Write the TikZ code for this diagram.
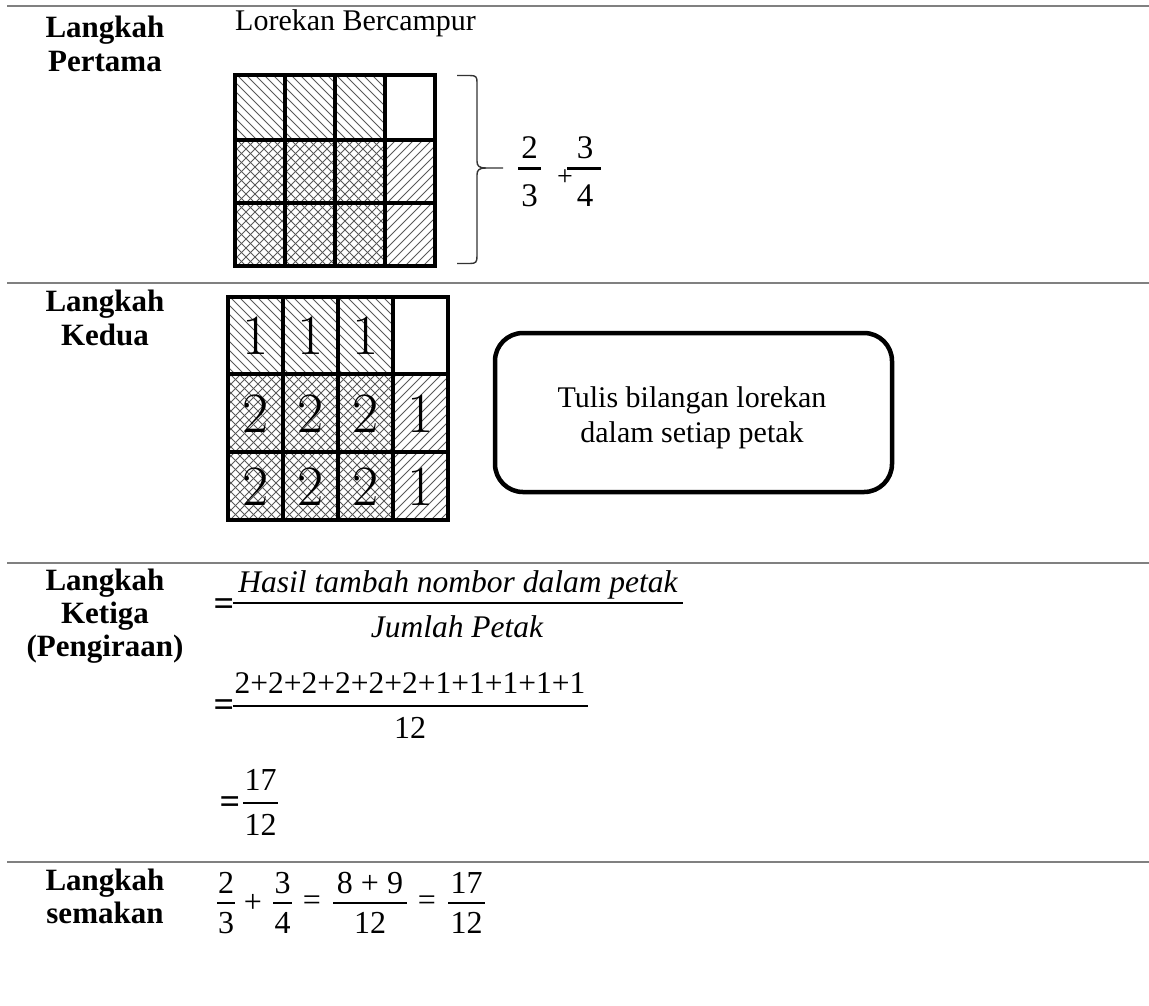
\documentclass[tikz,border=0pt]{standalone}
\usepackage{fontspec}
\newfontfamily\tnr{Liberation Serif}
\newcommand\hatchdn[4]{\begin{scope}\clip (#1,#2) rectangle (#3,#4);
  \foreach \k in {-250,-241,...,250} \draw[hl] (#1+\k,#2) -- ++(250,250);
  \end{scope}}
\newcommand\hatchup[4]{\begin{scope}\clip (#1,#2) rectangle (#3,#4);
  \foreach \k in {-250,-241,...,250} \draw[hl] (#1+\k,#4) -- ++(250,-250);
  \end{scope}}
\begin{document}
\begin{tikzpicture}[x=1pt,y=-1pt,
  rule/.style={draw=black!50,line width=1.8pt},
  lbl/.style={font=\tnr\bfseries\fontsize{31}{34}\selectfont,anchor=base,inner sep=0pt},
  body/.style={font=\tnr\fontsize{30}{35}\selectfont,inner sep=0pt},
  mtxt/.style={font=\tnr\fontsize{32}{36}\selectfont,anchor=base,inner sep=0pt},
  mit/.style={font=\tnr\itshape\fontsize{31.5}{36}\selectfont,anchor=base,inner sep=0pt},
  beq/.style={font=\tnr\bfseries\fontsize{36}{36}\selectfont,inner sep=0pt},
  fbar/.style={line width=2.6pt},
  gridline/.style={line width=4.5pt},
  hl/.style={line width=0.8pt,draw=black!65},
  bignum/.style={font=\fontsize{57}{57}\selectfont,inner sep=0pt},
  tbox/.style={draw,line width=4.5pt,rounded corners=28pt}]
\useasboundingbox (0,0) rectangle (1149,1005);
% table rules
\draw[rule] (7,6) -- (1149,6);
\draw[rule] (7,283) -- (1149,283);
\draw[rule] (7,563) -- (1149,563);
\draw[rule] (7,862) -- (1149,862);
% labels
\node[lbl] (l1a) at (105,37) {Langkah};
\node[lbl] (l1b) at (105,71) {Pertama};
\node[lbl] (l2a) at (105,311) {Langkah};
\node[lbl] (l2b) at (105,345) {Kedua};
\node[lbl] (l3a) at (105,590) {Langkah};
\node[lbl] (l3b) at (105,623) {Ketiga};
\node[lbl] (l3c) at (105,656) {(Pengiraan)};
\node[lbl] (l4a) at (105,890) {Langkah};
\node[lbl] (l4b) at (105,923) {semakan};
% ---------- row 1
\node[body,anchor=base west] (lb) at (235,30) {Lorekan Bercampur};
\hatchdn{235}{75}{385}{140}
\hatchdn{235}{140}{385}{266}
\hatchup{235}{140}{385}{266}
\hatchup{385}{140}{435}{266}
\draw[gridline] (235,75) rectangle (435,266);
\draw[gridline] (285,75) -- (285,266) (335,75) -- (335,266) (385,75) -- (385,266)
                (235,140) -- (435,140) (235,203) -- (435,203);
% brace
\coordinate (bt) at (457,75.5);
\coordinate (bb) at (457,263.5);
\coordinate (btip) at (503,168);
\draw[line width=1.4pt,black!80] (bt) -- (470,75.5) .. controls (476,75.5) and (477,77) .. (477,82)
   -- (477,161) .. controls (477,166) and (479,168) .. (486,168) -- (btip);
\draw[line width=1.4pt,black!80] (bb) -- (470,263.5) .. controls (476,263.5) and (477,262) .. (477,256)
   -- (477,175) .. controls (477,170) and (479,168) .. (486,168);
\node[mtxt,font=\tnr\fontsize{33}{33}\selectfont] (f1n) at (529.5,158) {2};
\node[mtxt,font=\tnr\fontsize{33}{33}\selectfont] (f1d) at (529.5,206) {3};
\draw[fbar,line width=3pt] (518,168) -- (541,168);
\node[font=\tnr\fontsize{28}{28}\selectfont,inner sep=0pt] (p1) at (565,178) {+};
\node[mtxt,font=\tnr\fontsize{33}{33}\selectfont] (f2n) at (585,158) {3};
\node[mtxt,font=\tnr\fontsize{33}{33}\selectfont] (f2d) at (585,206) {4};
\draw[fbar,line width=3pt] (567,168) -- (601,168);
% ---------- row 2
\hatchdn{228}{297}{393}{374}
\hatchdn{228}{374}{393}{520}
\hatchup{228}{374}{393}{520}
\hatchup{393}{374}{448}{520}
\draw[gridline] (228,297) rectangle (448,520);
\draw[gridline] (283,297) -- (283,520) (338,297) -- (338,520) (393,297) -- (393,520)
                (228,374) -- (448,374) (228,452) -- (448,452);
\node[bignum] (n11) at (255.5,336) {1};
\node[bignum] (n12) at (310.5,336) {1};
\node[bignum] (n13) at (365.5,336) {1};
\node[bignum] (n21) at (255.5,414) {2};
\node[bignum] (n22) at (310.5,414) {2};
\node[bignum] (n23) at (365.5,414) {2};
\node[bignum] (n24) at (420.5,414) {1};
\node[bignum] (n31) at (255.5,487) {2};
\node[bignum] (n32) at (310.5,487) {2};
\node[bignum] (n33) at (365.5,487) {2};
\node[bignum] (n34) at (420.5,487) {1};
\node[tbox,minimum width=397pt,minimum height=159pt] (box) at (693.5,412.5) {};
\node[body,anchor=base] (bt1) at (692,407) {Tulis bilangan lorekan};
\node[body,anchor=base] (bt2) at (692,442) {dalam setiap petak};
% ---------- row 3
\node[beq] (e1) at (224,607) {=};
\node[mit] (h1) at (458,592) {Hasil tambah nombor dalam petak};
\draw[fbar] (233,603) -- (683,603);
\node[mit] (h2) at (457,637) {Jumlah Petak};
\node[beq] (e2) at (224,708) {=};
\node[mtxt,font=\tnr\fontsize{31.5}{36}\selectfont] (s1) at (410,693) {2+2+2+2+2+2+1+1+1+1+1};
\draw[fbar] (233,706) -- (588,706);
\node[mtxt] (s2) at (410,738) {12};
\node[beq] (e3) at (230,805) {=};
\node[mtxt] (r1) at (260.5,790) {17};
\draw[fbar] (243,803) -- (278,803);
\node[mtxt] (r2) at (260.5,835) {12};
% ---------- row 4
\node[mtxt] (a1) at (226,893) {2};
\node[mtxt] (a2) at (226,933) {3};
\draw[fbar] (217,903) -- (235,903);
\node[body,font=\tnr\fontsize{32}{32}\selectfont] (ap) at (253,903) {+};
\node[mtxt] (b1) at (282.5,893) {3};
\node[mtxt] (b2) at (282.5,933) {4};
\draw[fbar] (273,903) -- (292,903);
\node[body,font=\tnr\fontsize{32}{32}\selectfont] (aq) at (312,903) {=};
\node[mtxt] (c1) at (370,893) {8 + 9};
\node[mtxt] (c2) at (370,933) {12};
\draw[fbar] (333,903) -- (407,903);
\node[body,font=\tnr\fontsize{32}{32}\selectfont] (ar) at (427,903) {=};
\node[mtxt] (d1) at (466.5,893) {17};
\node[mtxt] (d2) at (466.5,933) {12};
\draw[fbar] (448,903) -- (485,903);
\end{tikzpicture}
\end{document}
